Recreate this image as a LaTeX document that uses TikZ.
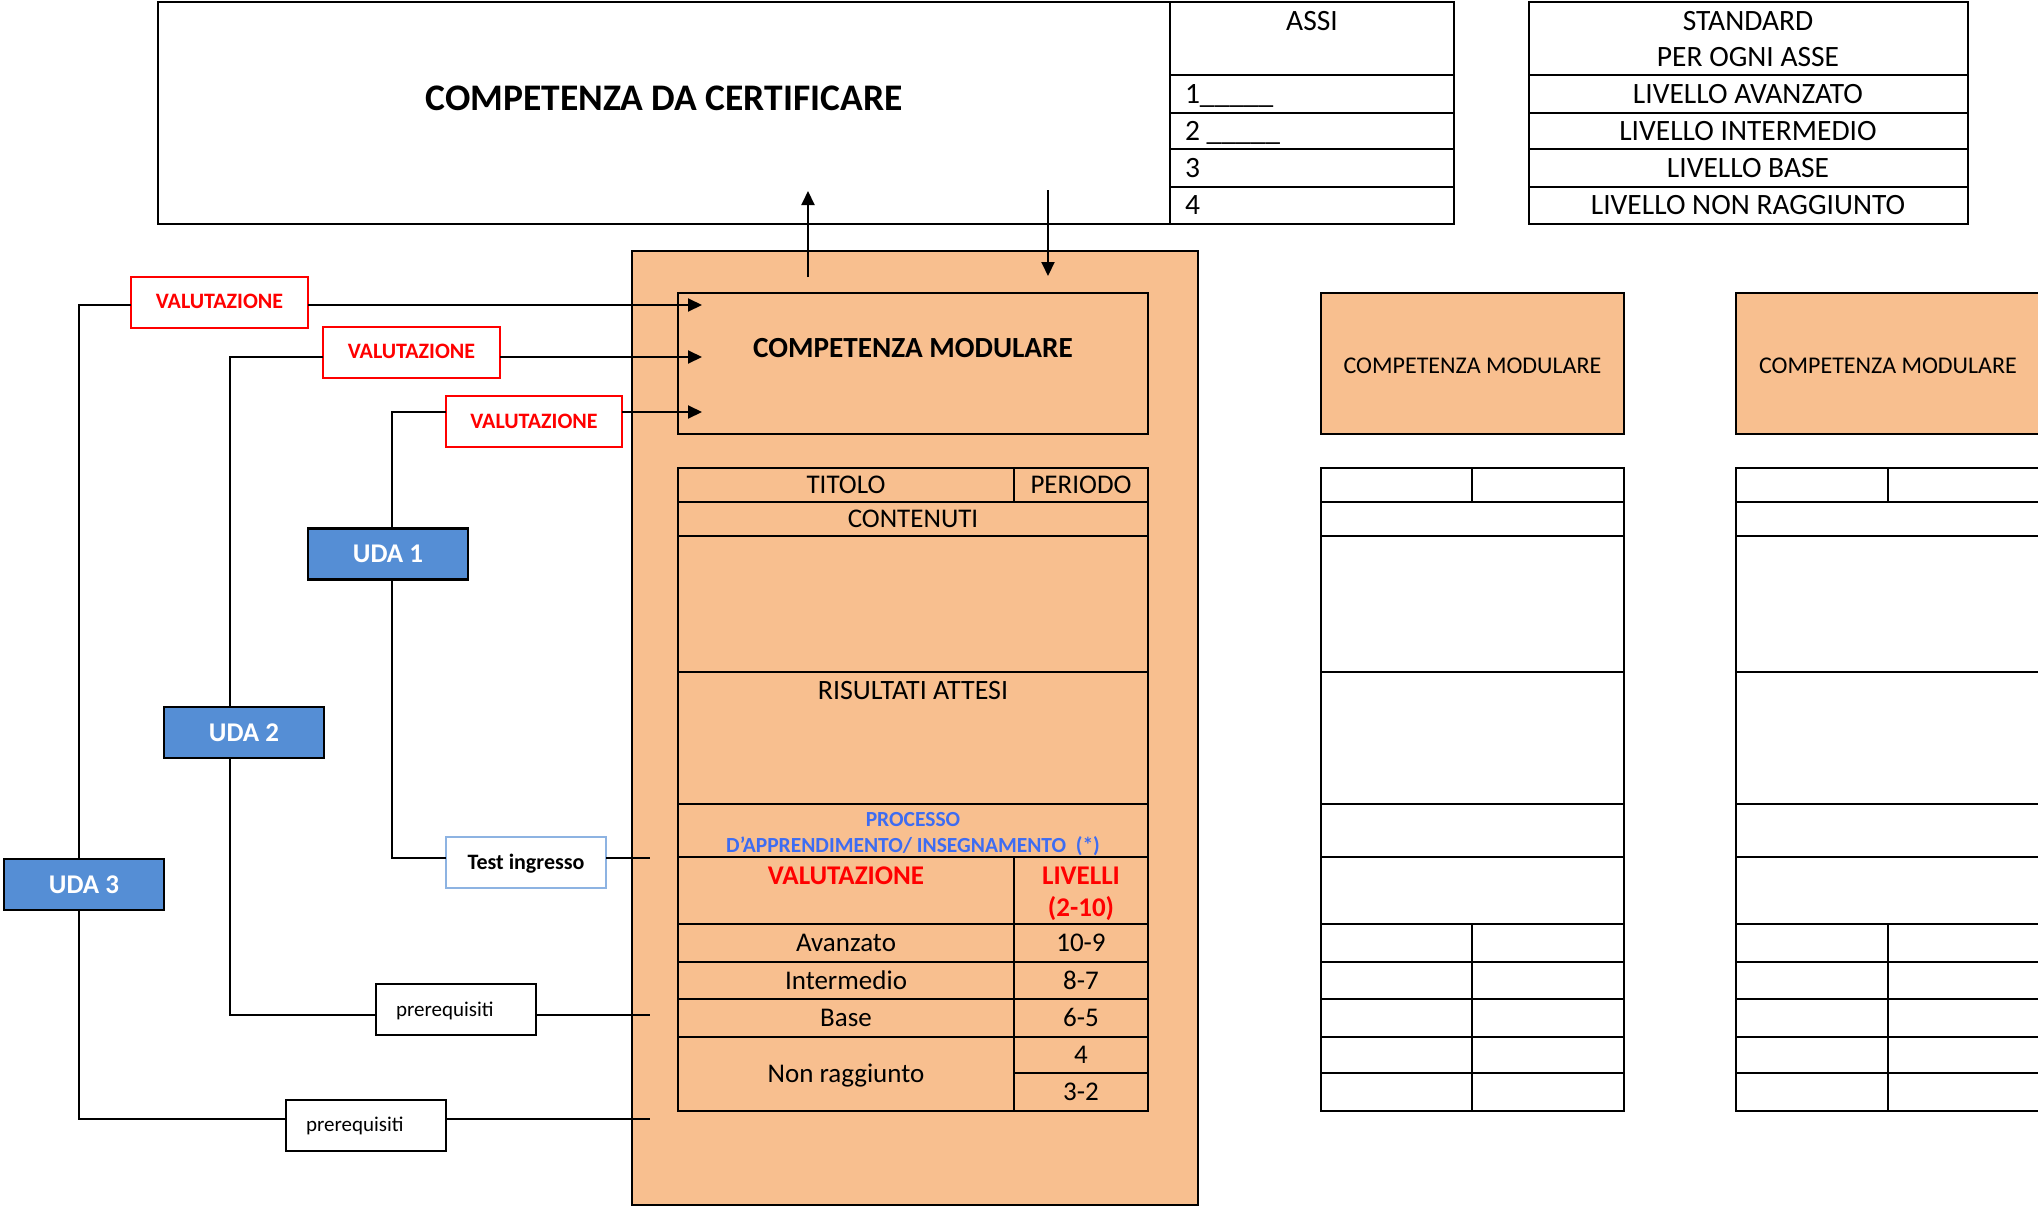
\documentclass[tikz,border=0pt]{standalone}
\usepackage{fontspec}
\setmainfont{Carlito}
\usetikzlibrary{arrows.meta}
\definecolor{orangefill}{HTML}{F8BF8F}
\definecolor{udablue}{HTML}{558ED5}
\definecolor{procblue}{HTML}{3D6CF2}
\definecolor{lightblue}{HTML}{8DB3E2}
\definecolor{redtxt}{HTML}{FF0000}
\newcommand{\fsz}[1]{\fontsize{#1}{#1}\selectfont}
\begin{document}
\begin{tikzpicture}[x=1pt,y=-1pt,
  every node/.style={inner sep=0pt, outer sep=0pt},
  fs/.code={\pgfmathsetmacro\mytxth{0.63*#1}%
    \edef\mytmp{\noexpand\tikzset{text height=\mytxth pt, text depth=0pt}}\mytmp
    \tikzset{font=\fsz{#1}}},
  bf/.style={fs=#1, font=\fsz{#1}\bfseries},
  frame/.style={draw=black, line width=2pt},
  valbox/.style={draw=redtxt, line width=2pt, fill=white, minimum width=177pt, minimum height=51pt, text=redtxt, bf=22},
  udabox/.style={draw=black, line width=2.5pt, fill=udablue, minimum width=160pt, minimum height=51pt, text=white, bf=27},
  prebox/.style={draw=black, line width=2pt, fill=white, minimum height=51pt, inner xsep=20pt, text width=120pt, align=left, fs=21},
  testbox/.style={draw=lightblue, line width=2pt, fill=white, minimum width=160pt, minimum height=51pt, bf=22},
  conn/.style={draw=black, line width=2pt},
  arr/.style={conn, -{Triangle[length=14pt,width=13pt]}},
  toptxt/.style={fs=29.5},
  cell/.style={fs=27},
  compbox/.style={frame, fill=orangefill, minimum height=141pt},
]
\useasboundingbox (0,0) rectangle (2038,1207);

% ---------- top: competenza da certificare + assi ----------
\draw[frame] (158,2) rectangle (1454,224);
\draw[frame] (1170,2) -- (1170,224);
\foreach \y in {75,113,149,187} \draw[frame] (1170,\y) -- (1454,\y);
\node[bf=37.5] (cdc) at (664,99) {COMPETENZA DA CERTIFICARE};
\node[toptxt] (assi) at (1312,21) {ASSI};
\node[toptxt, anchor=west] (a1) at (1185,94) {1\_\_\_\_\_};
\node[toptxt, anchor=west] (a2) at (1185,131) {2 \_\_\_\_\_};
\node[toptxt, anchor=west] (a3) at (1185,168) {3};
\node[toptxt, anchor=west] (a4) at (1185,205) {4};

% ---------- standard ----------
\draw[frame] (1529,2) rectangle (1968,224);
\foreach \y in {75,113,149,187} \draw[frame] (1529,\y) -- (1968,\y);
\node[toptxt] (s1) at (1748,21) {STANDARD};
\node[toptxt] (s2) at (1748,57) {PER OGNI ASSE};
\node[toptxt] (s3) at (1748,94) {LIVELLO AVANZATO};
\node[toptxt] (s4) at (1748,131) {LIVELLO INTERMEDIO};
\node[toptxt] (s5) at (1748,168) {LIVELLO BASE};
\node[toptxt] (s6) at (1748,205) {LIVELLO NON RAGGIUNTO};

% ---------- central orange module ----------
\draw[frame, fill=orangefill] (632,251) rectangle (1198,1205);
\node[frame, fill=orangefill, minimum width=470pt, minimum height=141pt] (cm) at (913,363.5) {};
\node[bf=29.2] (cmt) at (913,348) {COMPETENZA MODULARE};

\draw[frame] (678,468) rectangle (1148,1111);
\foreach \y in {502,536,672,804,857,924,962,999,1037} \draw[frame] (678,\y) -- (1148,\y);
\draw[frame] (1014,1073) -- (1148,1073);
\draw[frame] (1014,468) -- (1014,502);
\draw[frame] (1014,857) -- (1014,1111);

\node[cell] (titolo) at (846,485) {TITOLO};
\node[cell] (periodo) at (1081,485) {PERIODO};
\node[cell] (contenuti) at (913,519) {CONTENUTI};
\node[fs=28] (risultati) at (913,691) {RISULTATI ATTESI};
\node[bf=21.5, text=procblue] (proc1) at (913,820) {PROCESSO};
\node[bf=21.5, text=procblue] (proc2) at (913,846) {D’APPRENDIMENTO/ INSEGNAMENTO\ \ (*)};
\node[bf=27, text=redtxt] (valt) at (846,876) {VALUTAZIONE};
\node[bf=27, text=redtxt] (liv1) at (1081,876) {LIVELLI};
\node[bf=27, text=redtxt] (liv2) at (1081,908) {(2-10)};
\node[cell] (avz) at (846,943) {Avanzato};
\node[cell] (avzn) at (1081,943) {10-9};
\node[cell] (int) at (846,981) {Intermedio};
\node[cell] (intn) at (1081,981) {8-7};
\node[cell] (bas) at (846,1018) {Base};
\node[cell] (basn) at (1081,1018) {6-5};
\node[cell] (nonr) at (846,1074) {Non raggiunto};
\node[cell] (n4) at (1081,1055) {4};
\node[cell] (n32) at (1081,1092) {3-2};

% ---------- right modules ----------
\node[compbox, minimum width=303pt] (cm2) at (1472.5,363.5) {};
\node[compbox, minimum width=304pt] (cm3) at (1888,363.5) {};
\node[fs=24] (cm2t) at (1472.5,366) {COMPETENZA MODULARE};
\node[fs=24] (cm3t) at (1888,366) {COMPETENZA MODULARE};
\foreach \xl/\xd/\xr in {1321/1472/1624, 1736/1888/2040}{
  \draw[frame] (\xl,468) rectangle (\xr,1111);
  \foreach \y in {502,536,672,804,857,924,962,999,1037,1073} \draw[frame] (\xl,\y) -- (\xr,\y);
  \draw[frame] (\xd,468) -- (\xd,502);
  \draw[frame] (\xd,924) -- (\xd,1111);
}

% ---------- left: UDA and connectors ----------
\node[valbox] (val1) at (219.5,302) {VALUTAZIONE};
\node[valbox] (val2) at (411.5,352) {VALUTAZIONE};
\node[valbox, minimum width=176pt] (val3) at (534,421.5) {VALUTAZIONE};
\node[udabox] (uda1) at (388,554) {UDA 1};
\node[udabox] (uda2) at (244,732.5) {UDA 2};
\node[udabox] (uda3) at (84,884.5) {UDA 3};
\node[testbox] (test) at (526,862.5) {Test ingresso};
\node[prebox] (pre1) at (456,1009.5) {prerequisiti};
\node[prebox] (pre2) at (366,1125) {prerequisiti};

\coordinate (t1) at (702,305);
\coordinate (t2) at (702,357);
\coordinate (t3) at (702,412);
\coordinate (e1) at (650,858);
\coordinate (e2) at (650,1015);
\coordinate (e3) at (650,1119);

\draw[conn] ([xshift=-5pt]uda3.north) |- ([yshift=-3pt]val1.west);
\draw[arr] ([yshift=-3pt]val1.east) -- (t1);
\draw[conn] ([xshift=-14pt]uda2.north) |- ([yshift=-5pt]val2.west);
\draw[arr] ([yshift=-5pt]val2.east) -- (t2);
\draw[conn] ([xshift=4pt]uda1.north) |- ([yshift=9.5pt]val3.west);
\draw[arr] ([yshift=9.5pt]val3.east) -- (t3);

\draw[conn] ([xshift=4pt]uda1.south) |- ([yshift=4.5pt]test.west);
\draw[conn] ([yshift=4.5pt]test.east) -- (e1);
\draw[conn] ([xshift=-14pt]uda2.south) |- ([yshift=-5.5pt]pre1.west);
\draw[conn] ([yshift=-5.5pt]pre1.east) -- (e2);
\draw[conn] ([xshift=-5pt]uda3.south) |- ([yshift=6pt]pre2.west);
\draw[conn] ([yshift=6pt]pre2.east) -- (e3);

% ---------- vertical arrows ----------
\coordinate (u0) at (808,277);
\coordinate (u1) at (808,191);
\coordinate (d0) at (1048,190);
\coordinate (d1) at (1048,276);
\draw[arr] (u0) -- (u1);
\draw[arr] (d0) -- (d1);
\end{tikzpicture}
\end{document}
